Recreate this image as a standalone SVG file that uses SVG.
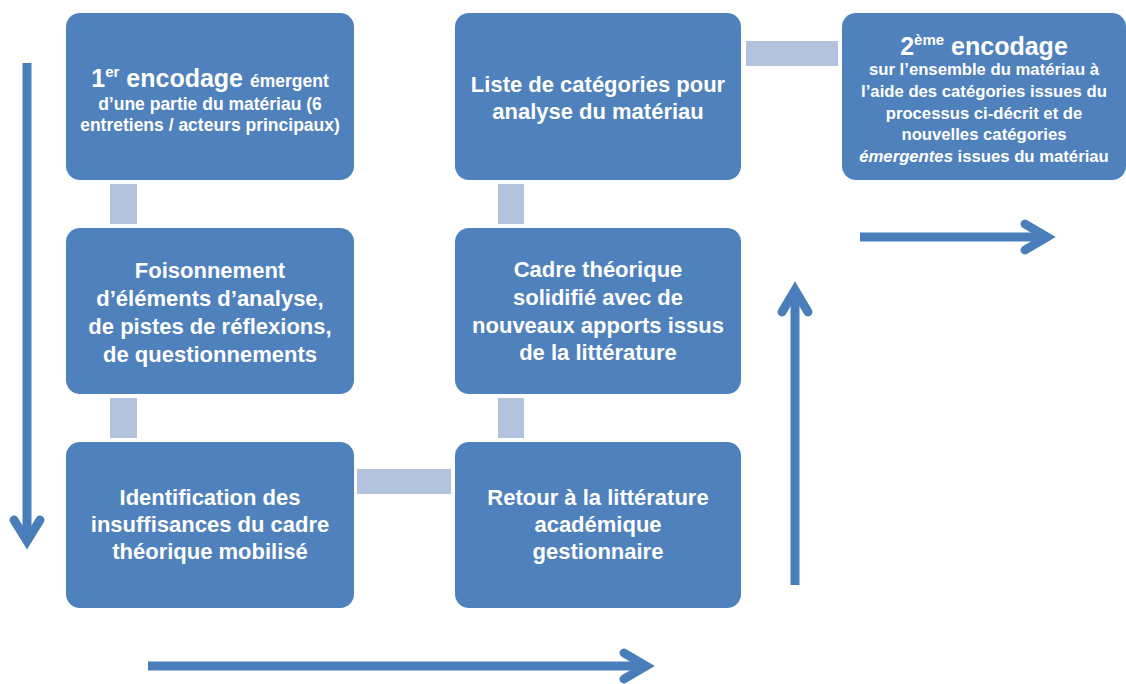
<svg xmlns="http://www.w3.org/2000/svg" width="1126" height="684" viewBox="0 0 1126 684">
<style>
.node{fill:#4F81BD}
.link{fill:#B3C3DE}
.t{font-family:"Liberation Sans",Arial,sans-serif;font-weight:bold;fill:#FFFFFF;text-anchor:middle}
.m{font-size:22px}
.s{font-size:17.5px}
.s7{font-size:16.7px}
.b{font-size:25px}
.arr{fill:none;stroke:#4A7EBB;stroke-width:9}
.head{fill:none;stroke:#4A7EBB;stroke-width:9;stroke-linecap:round;stroke-linejoin:miter}
</style>
<rect width="1126" height="684" fill="#FFFFFF"/>
<g id="connectors">
<rect class="link" x="110" y="184" width="27" height="40"/>
<rect class="link" x="110" y="398" width="27" height="40"/>
<rect class="link" x="357" y="469" width="94" height="25"/>
<rect class="link" x="498" y="398" width="26" height="40"/>
<rect class="link" x="498" y="184" width="26" height="40"/>
<rect class="link" x="746" y="41" width="92" height="25"/>
</g>
<g id="arrows">
<line class="arr" x1="27" y1="63" x2="27" y2="540"/>
<polyline class="head" points="14,520 27,541 40,520"/>
<line class="arr" x1="148" y1="666" x2="644" y2="666"/>
<polyline class="head" points="624,653 646,666 624,679"/>
<line class="arr" x1="795" y1="585" x2="795" y2="292"/>
<polyline class="head" points="782,312 795,290 808,312"/>
<line class="arr" x1="860" y1="237" x2="1045" y2="237"/>
<polyline class="head" points="1025,224 1047,237 1025,250"/>
</g>
<g id="n1">
<rect class="node" x="66" y="13" width="288" height="167" rx="14"/>
<text class="t" x="210" y="87"><tspan class="b">1</tspan><tspan font-size="15" dy="-10">er</tspan><tspan class="b" dy="10"> encodage </tspan><tspan class="s">émergent</tspan></text>
<text class="t s" x="210" y="110">d’une partie du matériau (6</text>
<text class="t s" x="210" y="131">entretiens / acteurs principaux)</text>
</g>
<g id="n2">
<rect class="node" x="66" y="228" width="288" height="166" rx="14"/>
<text class="t m" x="210" y="278">Foisonnement</text>
<text class="t m" x="210" y="306">d’éléments d’analyse,</text>
<text class="t m" x="210" y="334">de pistes de réflexions,</text>
<text class="t m" x="210" y="362">de questionnements</text>
</g>
<g id="n3">
<rect class="node" x="66" y="442" width="288" height="166" rx="14"/>
<text class="t m" x="210" y="505">Identification des</text>
<text class="t m" x="210" y="532">insuffisances du cadre</text>
<text class="t m" x="210" y="559">théorique mobilisé</text>
</g>
<g id="n4">
<rect class="node" x="455" y="13" width="286" height="167" rx="14"/>
<text class="t m" x="598" y="92">Liste de catégories pour</text>
<text class="t m" x="598" y="119">analyse du matériau</text>
</g>
<g id="n5">
<rect class="node" x="455" y="228" width="286" height="166" rx="14"/>
<text class="t m" x="598" y="277">Cadre théorique</text>
<text class="t m" x="598" y="305">solidifié avec de</text>
<text class="t m" x="598" y="333">nouveaux apports issus</text>
<text class="t m" x="598" y="360">de la littérature</text>
</g>
<g id="n6">
<rect class="node" x="455" y="442" width="286" height="166" rx="14"/>
<text class="t m" x="598" y="505">Retour à la littérature</text>
<text class="t m" x="598" y="532">académique</text>
<text class="t m" x="598" y="559">gestionnaire</text>
</g>
<g id="n7">
<rect class="node" x="842" y="13" width="284" height="167" rx="14"/>
<text class="t" x="984" y="55"><tspan class="b">2</tspan><tspan font-size="15" dy="-10">ème</tspan><tspan class="b" dy="10"> encodage</tspan></text>
<text class="t s7" x="984" y="75">sur l’ensemble du matériau à</text>
<text class="t s7" x="984" y="97">l’aide des catégories issues du</text>
<text class="t s7" x="984" y="119">processus ci-décrit et de</text>
<text class="t s7" x="984" y="140">nouvelles catégories</text>
<text class="t s7" x="984" y="162"><tspan font-style="italic">émergentes</tspan> issues du matériau</text>
</g>
</svg>
